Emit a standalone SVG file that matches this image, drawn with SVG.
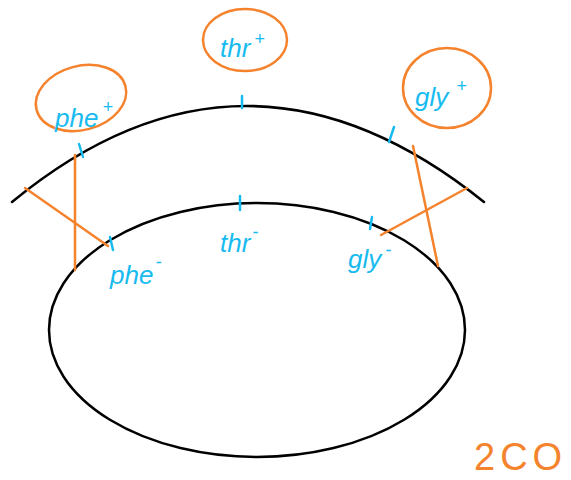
<svg xmlns="http://www.w3.org/2000/svg" width="571" height="480" viewBox="0 0 571 480">
<style>
.blk{fill:none;stroke:#000;stroke-width:2.5;stroke-linecap:round}
.org{fill:none;stroke:#f5832e;stroke-width:2.5;stroke-linecap:round}
.tick{fill:none;stroke:#17bbf0;stroke-width:2.5;stroke-linecap:round}
.lbl{fill:#17bbf0;font-family:"Liberation Sans","DejaVu Sans",sans-serif;font-style:italic;font-size:26px}
.sup{font-size:18px}
.note{fill:#f5832e;font-family:"Liberation Sans","DejaVu Sans",sans-serif;font-size:38px}
</style>
<rect width="571" height="480" fill="#fff"/>
<g id="outer-arc"><path class="blk" d="M12,202 Q245,10 484,202"/></g>
<g id="inner-ellipse"><ellipse class="blk" cx="257" cy="330" rx="208" ry="127"/></g>
<g id="connectors">
<line class="org" x1="25" y1="188" x2="108" y2="246"/>
<line class="org" x1="75" y1="155" x2="75" y2="270"/>
<line class="org" x1="467" y1="188" x2="381" y2="235"/>
<line class="org" x1="413" y1="146" x2="438" y2="266"/>
</g>
<g id="ticks">
<line class="tick" x1="79" y1="144" x2="83" y2="157"/>
<line class="tick" x1="242" y1="96" x2="242" y2="108"/>
<line class="tick" x1="394" y1="127" x2="389" y2="142"/>
<line class="tick" x1="110" y1="237" x2="113" y2="250"/>
<line class="tick" x1="240" y1="196" x2="240" y2="210"/>
<line class="tick" x1="372" y1="217" x2="370" y2="229"/>
</g>
<g id="phe-plus">
<ellipse class="org" cx="81" cy="98" rx="46" ry="32" transform="rotate(-15 81 98)"/>
<text class="lbl" x="55" y="127">phe<tspan class="sup" dx="4" dy="-14">+</tspan></text>
</g>
<g id="thr-plus">
<ellipse class="org" cx="245" cy="40" rx="42" ry="31"/>
<text class="lbl" x="220" y="57">thr<tspan class="sup" dx="4" dy="-12">+</tspan></text>
</g>
<g id="gly-plus">
<ellipse class="org" cx="447" cy="88" rx="44" ry="40"/>
<text class="lbl" x="415" y="106">gly<tspan class="sup" dx="8" dy="-14">+</tspan></text>
</g>
<g id="phe-minus"><text class="lbl" x="110" y="284">phe<tspan class="sup" dx="2" dy="-16">-</tspan></text></g>
<g id="thr-minus"><text class="lbl" x="220" y="252">thr<tspan class="sup" dx="2" dy="-14">-</tspan></text></g>
<g id="gly-minus"><text class="lbl" x="348" y="268">gly<tspan class="sup" dx="4" dy="-12">-</tspan></text></g>
<g id="note"><text class="note" x="474" y="470">2<tspan dx="5">C</tspan><tspan dx="5">O</tspan></text></g>
</svg>
